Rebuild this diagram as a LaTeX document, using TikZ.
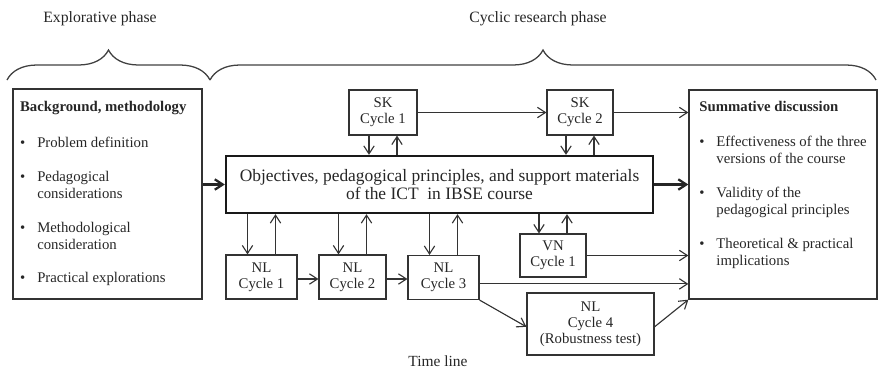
\documentclass[tikz,border=0pt]{standalone}
\usepackage{fontspec}
\setmainfont{Liberation Serif}
\usetikzlibrary{arrows.meta,decorations.pathreplacing}

\begin{document}
\begin{tikzpicture}[x=0.025cm,y=-0.025cm,
  >={Straight Barb[length=2mm,width=2.6mm]},
  every node/.style={text=black!85},
  box/.style={draw=black!80,line width=0.8pt,inner sep=0pt,align=center,
    minimum width=1.7cm,minimum height=1.1cm,font=\fontsize{10.5}{11.5}\selectfont},
  bigbox/.style={draw=black!80,line width=0.9pt,inner sep=0pt,
    font=\fontsize{10.5}{12}\selectfont},
  arr/.style={->,draw=black!80,line width=0.8pt},
  thickarr/.style={->,draw=black!85,line width=1.6pt},
  phase/.style={decorate,decoration={brace,amplitude=0.75cm},draw=black!75,line width=0.9pt}]
\useasboundingbox (0,0) rectangle (880,371);

% phases
\node[font=\fontsize{11.2}{13}\selectfont] (explo) at (100,19) {Explorative phase};
\node[font=\fontsize{11.2}{13}\selectfont] (cyclic) at (538,19) {Cyclic research phase};
\draw[phase] (7,80) -- (210,80);
\draw[phase] (210,80) -- (876,80);

% left and right boxes
\node[bigbox,minimum width=4.725cm,minimum height=5.25cm] (bg) at (107.5,194) {%
  \begin{tabular}{@{}l@{\hspace{8.5pt}}l@{}}
  \multicolumn{2}{@{}l}{\textbf{Background, methodology}}\\[13.5pt]
  \textbullet & Problem definition\\[12pt]
  \textbullet & Pedagogical\\ & considerations\\[12pt]
  \textbullet & Methodological\\ & consideration\\[12pt]
  \textbullet & Practical explorations
  \end{tabular}};
\node[bigbox,minimum width=4.7cm,minimum height=5.225cm] (sum) at (783,194.5) {%
  \begin{tabular}{@{}l@{\hspace{8.5pt}}l@{}}
  \multicolumn{2}{@{}l}{\textbf{Summative discussion}}\\[13.5pt]
  \textbullet & Effectiveness of the three\\ & versions of the course\\[12pt]
  \textbullet & Validity of the\\ & pedagogical principles\\[12pt]
  \textbullet & Theoretical \& practical\\ & implications\\[14pt]
  \end{tabular}};

% central box
\node[draw=black!90,line width=1.6pt,align=center,inner sep=0pt,
  minimum width=10.675cm,minimum height=1.425cm,
  font=\fontsize{12.4}{13.2}\selectfont] (obj) at (439.5,184.5)
  {Objectives, pedagogical principles, and support materials\\of the ICT\ \ in IBSE course};

% cycles
\node[box,minimum height=1.125cm] (sk1) at (383,112.5) {SK\\Cycle 1};
\node[box,minimum width=1.65cm,minimum height=1.125cm] (sk2) at (580,112.5) {SK\\Cycle 2};
\node[box,minimum width=1.775cm] (nl1) at (261.5,277) {NL\\Cycle 1};
\node[box,minimum width=1.675cm] (nl2) at (352.5,277) {NL\\Cycle 2};
\node[box,minimum width=1.775cm] (nl3) at (443.5,277.5) {NL\\Cycle 3};
\node[box,minimum width=1.65cm,minimum height=1.075cm] (vn) at (553,255.5) {VN\\Cycle 1};
\node[box,minimum width=3.175cm,minimum height=1.55cm] (nl4) at (590.5,324) {NL\\Cycle 4\\(Robustness test)};

\node[font=\fontsize{11}{13}\selectfont] (time) at (438,361) {Time line};

% connectors
\draw[thickarr] (obj.west -| bg.east) -- (obj.west);
\draw[thickarr] (obj.east) -- (obj.east -| sum.west);
\draw[arr] (sk1) -- (sk2);
\draw[arr] (sk2.east) -- (sk2.east -| sum.west);
\foreach \n in {sk1,sk2} {
  \draw[arr] ([xshift=-3.5mm]\n.south) -- ([xshift=-3.5mm]\n.south |- obj.north);
  \draw[arr] ([xshift=3.5mm]\n.south |- obj.north) -- ([xshift=3.5mm]\n.south);
}
\foreach \n in {nl1,nl2,nl3,vn} {
  \draw[arr] ([xshift=-3.5mm]\n.north |- obj.south) -- ([xshift=-3.5mm]\n.north);
  \draw[arr] ([xshift=3.5mm]\n.north) -- ([xshift=3.5mm]\n.north |- obj.south);
}
\draw[arr] (nl1.east |- 0,279) -- (nl2.west |- 0,279);
\draw[arr] (nl2.east |- 0,279) -- (nl3.west |- 0,279);
\draw[arr] (vn.east) -- (vn.east -| sum.west);
\draw[arr] ([yshift=-0.16cm]nl3.east) -- ([yshift=-0.16cm]nl3.east -| sum.west);
\draw[arr] (nl3.south east) -- ([yshift=-0.07cm]nl4.west);
\draw[arr] ([yshift=-0.07cm]nl4.east) -- (sum.south west);
\end{tikzpicture}
\end{document}
